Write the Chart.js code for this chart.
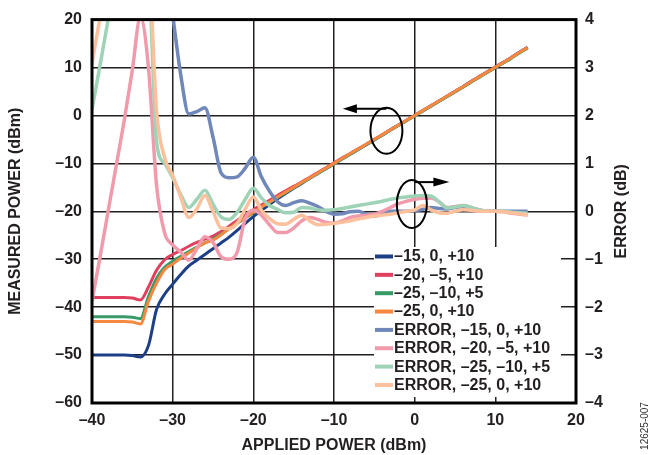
<!DOCTYPE html>
<html>
<head>
<meta charset="utf-8">
<script src="https://cdn.jsdelivr.net/npm/chart.js@4.4.1/dist/chart.umd.min.js"></script>
<style>
  html, body { margin: 0; padding: 0; background: #fff; }
  #wrap { width: 649px; height: 455px; }
</style>
</head>
<body>
<div id="wrap"><canvas id="myChart" width="649" height="455"></canvas></div>
<script>
// applied power sweep, dBm
const appliedPower = [
  -40, -39, -38, -37, -36, -35, -34, -33, -32, -31,
  -30, -29, -28, -27, -26, -25, -24, -23, -22, -21,
  -20, -19, -18, -17, -16, -15, -14, -13, -12, -11,
  -10, -9, -8, -7, -6, -5, -4, -3, -2, -1,
  0, 1, 2, 3, 4, 5, 6, 7, 8, 9,
  10, 11, 12, 13, 14
];

// measured power, dBm (left axis)
const pwr15 = [
  -50.0, -50.0, -50.0, -50.0, -50.0, -50.1, -50.4, -48.0, -40.5, -37.3,
  -35.2, -33.2, -31.4, -30.2, -29.0, -27.8, -26.6, -25.4, -24.0, -22.5,
  -21.1, -19.8, -18.6, -17.4, -16.3, -15.2, -14.2, -13.1, -12.1, -11.1,
  -10.1, -9.1, -8.1, -7.1, -6.1, -5.1, -4.1, -3.0, -2.0, -1.0,
  0.0, 1.0, 2.0, 3.0, 4.0, 5.0, 6.0, 7.1, 8.1, 9.1,
  10.1, 11.1, 12.1, 13.2, 14.2
];
const pwr20 = [
  -38.0, -38.0, -38.0, -38.0, -38.0, -38.1, -38.5, -35.8, -32.3, -30.1,
  -29.0, -28.2, -27.3, -26.5, -25.8, -25.2, -24.2, -23.1, -21.9, -20.8,
  -19.7, -18.7, -17.7, -16.7, -15.7, -14.8, -13.9, -12.9, -11.9, -10.9,
  -9.9, -8.9, -7.95, -6.95, -6.0, -5.0, -4.0, -3.0, -2.0, -1.0,
  0.0, 1.0, 2.0, 3.0, 4.0, 5.0, 6.0, 7.1, 8.1, 9.1,
  10.1, 11.1, 12.1, 13.2, 14.2
];
const pwr25a = [
  -42.0, -42.0, -42.0, -42.0, -42.0, -42.1, -42.4, -37.8, -34.0, -31.7,
  -30.4, -29.4, -28.4, -27.5, -26.6, -25.8, -24.8, -23.6, -22.5, -21.4,
  -20.3, -19.2, -18.2, -17.1, -16.1, -15.1, -14.1, -13.1, -12.1, -11.1,
  -10.1, -9.1, -8.1, -7.1, -6.1, -5.1, -4.1, -3.1, -2.1, -1.1,
  -0.1, 0.9, 1.9, 2.9, 3.9, 4.9, 5.9, 6.95, 7.95, 8.95,
  9.95, 10.95, 11.95, 13.05, 14.05
];
const pwr25b = [
  -43.0, -43.0, -43.0, -43.0, -43.0, -43.1, -43.5, -38.8, -35.0, -32.2,
  -31.0, -29.8, -28.7, -27.6, -26.6, -26.0, -24.9, -23.6, -22.4, -21.3,
  -20.2, -19.1, -18.1, -17.0, -16.0, -15.0, -14.0, -13.0, -12.0, -11.0,
  -10.0, -9.0, -8.0, -7.0, -6.0, -5.0, -4.0, -3.0, -2.0, -1.0,
  0.0, 1.0, 2.0, 3.0, 4.0, 5.0, 6.0, 7.05, 8.05, 9.05,
  10.05, 11.05, 12.05, 13.15, 14.15
];

// error, dB (right axis)
const err15 = [
  null, null, null, null, null, null, null, null, null, null,
  4.1, 2.85, 2.03, 2.08, 2.16, 1.55, 0.8, 0.7, 0.72, 0.9,
  1.13, 0.72, 0.42, 0.2, 0.12, 0.18, 0.22, 0.17, 0.1, 0.0,
  -0.06, -0.05, -0.01, 0.0, -0.06, -0.1, -0.05, 0.0, 0.0, 0.0,
  0.01, 0.04, 0.08, 0.06, 0.05, 0.08, 0.1, 0.07, 0.03, 0.0,
  0.0, 0.0, 0.0, 0.0, 0.0
];
const err20 = [
  -1.87, -0.95, 0.0, 0.95, 1.9, 2.95, 4.05, 3.0, 0.55, -0.45,
  -0.7, -0.85, -1.02, -0.78, -0.53, -0.65, -0.95, -1.0, -0.85, -0.15,
  0.02, -0.08, -0.28, -0.44, -0.44, -0.35, -0.2, -0.13, -0.17, -0.23,
  -0.25, -0.2, -0.13, -0.1, -0.08, -0.06, 0.0, 0.08, 0.16, 0.21,
  0.25, 0.27, 0.28, 0.2, 0.08, 0.1, 0.12, 0.08, 0.03, 0.0,
  0.0, -0.01, -0.04, -0.06, -0.08
];
const err25a = [
  2.12, 3.05, 4.0, 5.0, 5.5, 5.5, 5.5, 5.0, 1.45, 1.0,
  0.7, 0.35, 0.08, 0.25, 0.44, 0.15, -0.12, -0.17, -0.02, 0.25,
  0.48, 0.28, 0.12, 0.04, -0.03, -0.02, 0.08, 0.07, 0.03, 0.02,
  0.03, 0.06, 0.09, 0.12, 0.15, 0.18, 0.21, 0.25, 0.28, 0.3,
  0.32, 0.33, 0.32, 0.2, 0.07, 0.09, 0.12, 0.08, 0.03, 0.0,
  0.0, 0.0, -0.02, -0.03, -0.04
];
const err25b = [
  3.09, 4.05, 5.0, 5.5, 5.5, 5.5, 5.5, 5.2, 2.1, 1.12,
  0.75, 0.3, -0.13, 0.05, 0.33, 0.0, -0.35, -0.36, -0.25, 0.05,
  0.3, 0.02, -0.15, -0.26, -0.27, -0.17, -0.08, -0.2, -0.28, -0.27,
  -0.25, -0.23, -0.2, -0.16, -0.13, -0.1, -0.08, -0.06, -0.03, 0.0,
  0.03, 0.12, 0.03, -0.03, -0.04, 0.0, 0.03, 0.02, 0.0, 0.0,
  0.0, -0.01, -0.03, -0.05, -0.07
];

const seriesLabels = [
  '\u201315, 0, +10', '\u201320, \u20135, +10', '\u201325, \u201310, +5', '\u201325, 0, +10',
  'ERROR, \u201315, 0, +10', 'ERROR, \u201320, \u20135, +10', 'ERROR, \u201325, \u201310, +5', 'ERROR, \u201325, 0, +10'
];
const seriesColors = ['#1d3f86', '#e0405e', '#379b68', '#f7883f', '#6f88b9', '#f19aac', '#9fd3b7', '#fcc19c'];

const INK = '#231f20';
const FONT = '"Liberation Sans", Arial, sans-serif';

const toPoints = ys => appliedPower.map((x, i) => ({ x, y: ys[i] }));
const dash = v => (v < 0 ? '\u2013' + Math.abs(v) : String(v));

const allSeries = [pwr15, pwr20, pwr25a, pwr25b, err15, err20, err25a, err25b];
const datasets = allSeries.map((ys, i) => ({
  label: seriesLabels[i],
  data: toPoints(ys),
  yAxisID: i < 4 ? 'y' : 'y2',
  borderColor: seriesColors[i],
  backgroundColor: seriesColors[i],
  borderWidth: i < 4 ? 3 : 3.5,
  pointRadius: 0,
  fill: false,
  cubicInterpolationMode: 'monotone',
  order: 7 - i
}));

// ellipses, arrows, legend box, border and the extra texts
const decor = {
  id: 'decor',
  afterDatasetsDraw(chart) {
    const { ctx, chartArea: a } = chart;
    const sx = chart.scales.x, sy = chart.scales.y, se = chart.scales.y2;
    ctx.save();

    // frame
    ctx.strokeStyle = '#000';
    ctx.lineWidth = 3;
    ctx.strokeRect(a.left, a.top, a.right - a.left, a.bottom - a.top);

    ctx.lineWidth = 2;
    ctx.strokeStyle = '#000';
    ctx.fillStyle = '#000';

    // power curves -> left axis
    const c1x = sx.getPixelForValue(-3.5), c1y = sy.getPixelForValue(-3.2);
    ctx.beginPath();
    ctx.ellipse(c1x, c1y, 16, 23, 0, 0, Math.PI * 2);
    ctx.stroke();
    const t1 = sx.getPixelForValue(-8.9), ay1 = c1y - 22;
    ctx.beginPath();
    ctx.moveTo(c1x, ay1);
    ctx.lineTo(t1 + 12, ay1);
    ctx.stroke();
    ctx.beginPath();
    ctx.moveTo(t1, ay1);
    ctx.lineTo(t1 + 14, ay1 - 4.5);
    ctx.lineTo(t1 + 14, ay1 + 4.5);
    ctx.closePath();
    ctx.fill();

    // error curves -> right axis
    const c2x = sx.getPixelForValue(-0.35), c2y = se.getPixelForValue(0.15);
    ctx.beginPath();
    ctx.ellipse(c2x, c2y, 15, 24, 0, 0, Math.PI * 2);
    ctx.stroke();
    const t2 = sx.getPixelForValue(4.3), ay2 = c2y - 22;
    ctx.beginPath();
    ctx.moveTo(c2x + 3, ay2);
    ctx.lineTo(t2 - 12, ay2);
    ctx.stroke();
    ctx.beginPath();
    ctx.moveTo(t2, ay2);
    ctx.lineTo(t2 - 16, ay2 - 4.5);
    ctx.lineTo(t2 - 16, ay2 + 4.5);
    ctx.closePath();
    ctx.fill();

    // legend
    ctx.fillStyle = '#fff';
    ctx.fillRect(374, 247, 187, 150);
    ctx.font = 'bold 16px ' + FONT;
    ctx.textBaseline = 'middle';
    ctx.textAlign = 'left';
    chart.data.datasets.forEach((ds, i) => {
      const y = 256.5 + i * 18.35;
      ctx.strokeStyle = ds.borderColor;
      ctx.lineWidth = 4;
      ctx.beginPath();
      ctx.moveTo(375, y);
      ctx.lineTo(393, y);
      ctx.stroke();
      ctx.fillStyle = INK;
      ctx.fillText(ds.label, 394, y + 0.5);
    });

    // right axis title, reading upwards
    ctx.save();
    ctx.translate(622, (a.top + a.bottom) / 2);
    ctx.rotate(-Math.PI / 2);
    ctx.textAlign = 'center';
    ctx.fillStyle = INK;
    ctx.font = 'bold 16px ' + FONT;
    ctx.fillText('ERROR (dB)', 0, 0);
    ctx.restore();

    // figure number
    ctx.save();
    ctx.translate(645, 426);
    ctx.rotate(-Math.PI / 2);
    ctx.textAlign = 'center';
    ctx.fillStyle = '#333';
    ctx.font = '10px ' + FONT;
    ctx.fillText('12625-007', 0, 0);
    ctx.restore();

    ctx.restore();
  }
};

const tickFont = { family: FONT, size: 16, weight: 'bold' };
const gridStyle = { color: INK, lineWidth: 1.5, drawTicks: false };

new Chart(document.getElementById('myChart').getContext('2d'), {
  type: 'line',
  data: { datasets },
  options: {
    responsive: false,
    animation: false,
    devicePixelRatio: 1,
    layout: { padding: { top: 16, left: 0, right: 0, bottom: 0 } },
    plugins: { legend: { display: false }, tooltip: { enabled: false } },
    scales: {
      x: {
        type: 'linear', min: -40, max: 20,
        ticks: { stepSize: 10, padding: 8, color: INK, font: tickFont, callback: dash },
        grid: gridStyle,
        border: { display: false },
        title: { display: true, text: 'APPLIED POWER (dBm)', color: INK, font: tickFont, padding: { top: 0, bottom: 0 } },
        afterFit: s => { s.height = 52; }
      },
      y: {
        position: 'left', min: -60, max: 20,
        ticks: { stepSize: 10, padding: 10, color: INK, font: tickFont, callback: dash },
        grid: gridStyle,
        border: { display: false },
        title: { display: true, text: 'MEASURED POWER (dBm)', color: INK, font: tickFont, padding: { top: 6, bottom: 0 } },
        afterFit: s => { s.width = 92; }
      },
      y2: {
        position: 'right', min: -4, max: 4,
        ticks: { stepSize: 1, padding: 9, color: INK, font: tickFont, callback: dash },
        grid: { display: false, drawTicks: false },
        border: { display: false },
        afterFit: s => { s.width = 73; }
      }
    }
  },
  plugins: [decor]
});
</script>
</body>
</html>
